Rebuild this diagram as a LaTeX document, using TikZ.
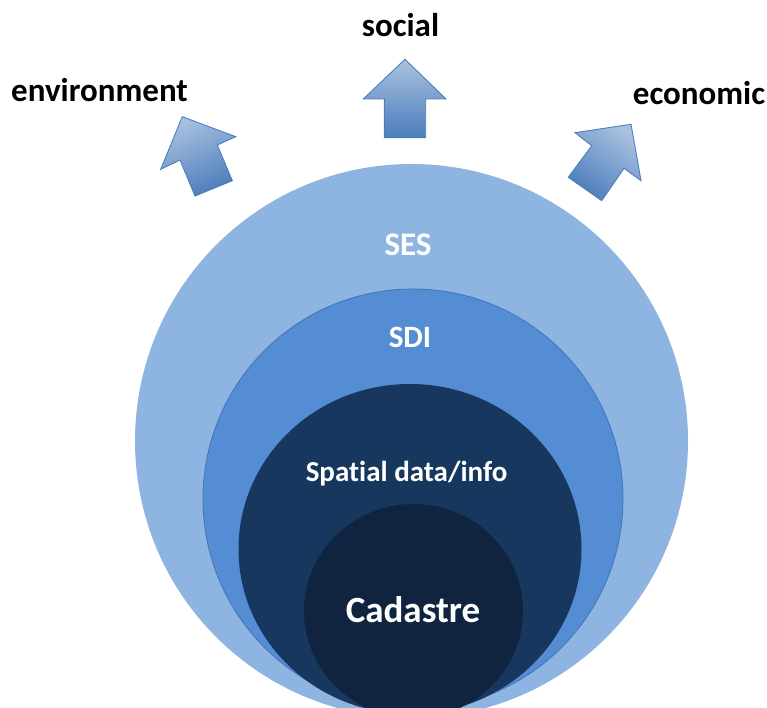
\documentclass[tikz,border=0pt]{standalone}
\usepackage{fontspec}
\setmainfont[Ligatures={NoCommon}]{Carlito}
\definecolor{sesc}{RGB}{142,180,226}
\definecolor{sdic}{RGB}{84,141,212}
\definecolor{sdiline}{RGB}{68,116,180}
\definecolor{spc}{RGB}{23,55,94}
\definecolor{cadc}{RGB}{16,36,63}
\definecolor{arrtop}{RGB}{170,193,224}
\definecolor{arrbot}{RGB}{76,125,188}
\definecolor{arrline}{RGB}{74,126,187}
\begin{document}
\begin{tikzpicture}[x=1pt,y=-1pt,
  lbl/.style={font=\fontsize{33}{38}\selectfont\bfseries, text=black, inner sep=0pt},
  inlbl/.style={text=white, inner sep=0pt, anchor=base},
  blockarrow/.style={draw=arrline, line width=0.9pt, top color=arrtop, bottom color=arrbot, line join=miter}]
\useasboundingbox (0,0) rectangle (767,708);
\begin{scope}
\clip (0,0) rectangle (767,708);
% nested discs
\fill[sesc] (411.5,441) ellipse [x radius=276.5, y radius=277];
\filldraw[fill=sdic, draw=sdiline, line width=0.8pt] (413,499) ellipse [x radius=210, y radius=210];
\fill[spc] (410,549) ellipse [x radius=171.5, y radius=165];
\fill[cadc] (413.5,611) ellipse [x radius=109.5, y radius=107];
\end{scope}
% inner labels
\node[inlbl, font=\fontsize{33}{38}\selectfont\bfseries] (ses) at (408,255) {SES};
\node[inlbl, font=\fontsize{31}{36}\selectfont\bfseries] (sdi) at (410,347.3) {SDI};
\node[inlbl, font=\fontsize{29}{34}\selectfont\bfseries] (spatial) at (406.5,481.7) {Spatial data/info};
\node[inlbl, font=\fontsize{37}{42}\selectfont\bfseries] (cad) at (413,622.7) {Cadastre};
% outer labels
\node[lbl, anchor=base] (social) at (400.5,37) {social};
\node[lbl, anchor=base west] (env) at (11,101.7) {environment};
\node[lbl, anchor=base west] (eco) at (632.7,105) {economic};
% block arrows
\path[blockarrow] (405,59.3) -- (446,99) -- (425.7,99) -- (425.7,137.7) -- (384.3,137.7) -- (384.3,99) -- (363.3,99) -- cycle;
\path[blockarrow, shading angle=23.6] (182.3,116.7) -- (235.7,136.7) -- (217.3,145) -- (232.3,180.7) -- (195,196) -- (180,160) -- (160.7,169.3) -- cycle;
\path[blockarrow, shading angle=-35.4] (631,124.3) -- (641,180.7) -- (624,168.3) -- (601.7,200.7) -- (568.3,177.3) -- (591.7,145.7) -- (575,132.7) -- cycle;
\end{tikzpicture}
\end{document}
